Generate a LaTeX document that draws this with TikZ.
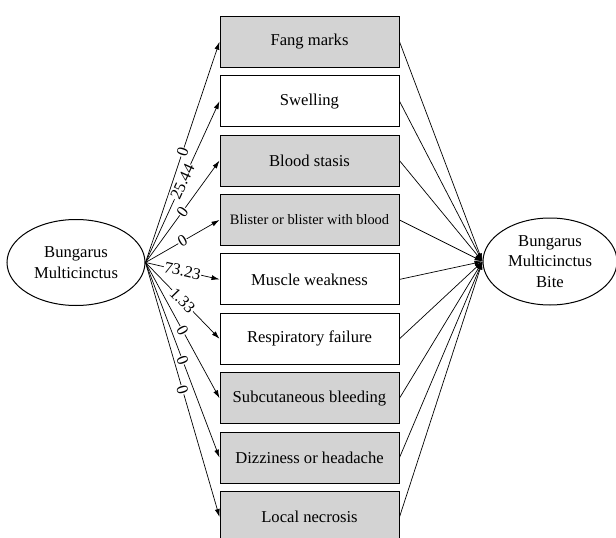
\documentclass[tikz,border=0pt]{standalone}
\usepackage{fontspec}
\setmainfont{Liberation Serif}
\usetikzlibrary{arrows.meta,shapes.geometric}
\definecolor{boxgray}{RGB}{211,211,211}
\begin{document}
\begin{tikzpicture}[x=1pt,y=-1pt,
  sym/.style={draw, line width=1pt, minimum width=179pt, minimum height=51pt, inner sep=0pt, font=\fontsize{16.6}{20}\selectfont},
  gbox/.style={sym, fill=boxgray},
  wbox/.style={sym, fill=white},
  lat/.style={draw, ellipse, line width=1pt, inner sep=0pt, align=center, font=\fontsize{16.6}{20.5}\selectfont},
  conn/.style={line width=0.7pt, -{Latex[length=8pt,width=5pt]}},
  lbl/.style={sloped, fill=white, inner sep=0.6pt, font=\fontsize{16.4}{18}\selectfont}
]
\useasboundingbox (0,0) rectangle (616,538);
\node[lat, minimum width=138pt, minimum height=86pt] (L) at (76,262.5) {Bungarus\\Multicinctus};
\node[lat, minimum width=134pt, minimum height=87pt] (R) at (550,261.5) {Bungarus\\Multicinctus\\Bite};

\node[gbox] (b1) at (309.5,41.7) {Fang marks};
\node[wbox] (b2) at (309.5,101.2) {Swelling};
\node[gbox] (b3) at (309.5,160.6) {Blood stasis};
\node[gbox, font=\fontsize{14.4}{17}\selectfont] (b4) at (309.5,220) {Blister or blister with blood};
\node[wbox] (b5) at (309.5,279.4) {Muscle weakness};
\node[wbox] (b6) at (309.5,338.8) {Respiratory failure};
\node[gbox] (b7) at (309.5,398.2) {Subcutaneous bleeding};
\node[gbox] (b8) at (309.5,457.6) {Dizziness or headache};
\node[gbox] (b9) at (309.5,517) {Local necrosis};

\draw[conn] (L.east) -- node[lbl] {0} (b1.west);
\draw[conn] (L.east) -- node[lbl] {25.44} (b2.west);
\draw[conn] (L.east) -- node[lbl] {0} (b3.west);
\draw[conn] (L.east) -- node[lbl] {0} (b4.west);
\draw[conn] (L.east) -- node[lbl] {73.23} (b5.west);
\draw[conn] (L.east) -- node[lbl] {1.33} (b6.west);
\draw[conn] (L.east) -- node[lbl] {0} (b7.west);
\draw[conn] (L.east) -- node[lbl] {0} (b8.west);
\draw[conn] (L.east) -- node[lbl] {0} (b9.west);

\foreach \b in {b1,b2,b3,b4,b5,b6,b7,b8,b9}
  \draw[conn] (\b.east) -- (R.west);
\end{tikzpicture}
\end{document}
